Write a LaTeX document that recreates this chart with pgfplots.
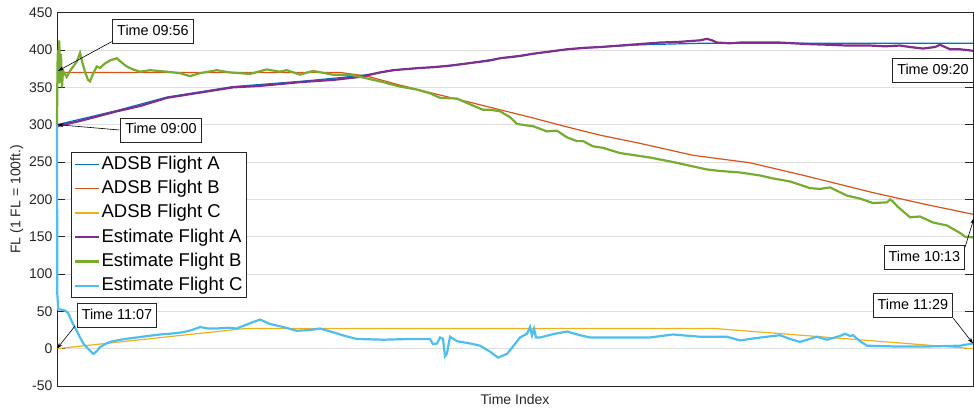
\documentclass[border=0pt]{standalone}
\usepackage{pgfplots}
\pgfplotsset{compat=1.18}
\usepackage{fontspec}
\setmainfont{Liberation Sans}
\usetikzlibrary{calc,arrows.meta}
\definecolor{mA}{HTML}{0072BD}
\definecolor{mB}{HTML}{D95319}
\definecolor{mC}{HTML}{EDB120}
\definecolor{mD}{HTML}{7E2F8E}
\definecolor{mE}{HTML}{77AC30}
\definecolor{mF}{HTML}{4DBEEE}
\definecolor{axgray}{HTML}{262626}
\definecolor{gridgray}{HTML}{DFDFDF}
\begin{document}
\begin{tikzpicture}[x=1pt,y=1pt]
\begin{axis}[
  scale only axis,
  width=916pt, height=373.3pt,
  xmin=0, xmax=916, ymin=-50, ymax=450,
  xtick=\empty,
  ytick={-50,0,...,450},
  ymajorgrids, grid style={gridgray, line width=0.8pt},
  axis line style={axgray, line width=0.8pt},
  tick style={axgray, line width=0.8pt},
  major tick length=8pt, tick align=inside,
  /pgf/number format/assume math mode=true,
  tick label style={font=\fontsize{14}{16}\selectfont, text=axgray},
  yticklabel style={xshift=-1pt},
  xlabel={Time Index}, ylabel={FL (1 FL = 100ft.)},
  label style={font=\fontsize{14}{16}\selectfont, text=axgray},
  xlabel style={yshift=-5pt},
  ylabel style={yshift=-1pt},
  clip=false,
  legend cell align=left,
  legend image code/.code={\draw[#1] (0pt,0pt) -- (24pt,0pt);},
  legend style={at={(0.0153,0.627)}, anchor=north west, draw=axgray, line width=0.8pt,
    font=\fontsize{18.5}{22}\selectfont, inner xsep=2pt, inner ysep=3pt, row sep=6.3pt,
    nodes={inner ysep=0pt, inner xsep=2pt, text height=14pt, text depth=4pt}},
]
% ADSB Flight A
\addplot[mA, line width=1.2pt] coordinates {
(0,300) (60,319) (110,337) (176,351) (243,358) (283,363) (310,367) (343,374) (376,377)
(410,382) (443,389) (476,395) (510,401) (543,404) (583,407) (643,409) (916,409)};
% ADSB Flight B
\addplot[mB, line width=1.2pt] coordinates {
(0,370) (283,370) (310,365) (343,353) (376,342) (410,331) (443,320) (476,309) (510,297)
(543,286) (583,275) (636,259) (653,256) (693,249) (750,231) (816,209) (866,194) (916,180)};
% ADSB Flight C
\addplot[mC, line width=1.2pt] coordinates {
(0,0) (188,27) (658,27) (916,0)};
% Estimate Flight A
\addplot[mD, line width=2.2pt] coordinates {
(0,298) (23,305) (43,312) (60,318) (83,325) (110,336) (143,343) (176,350) (203,352) (243,357)
(276,360) (303,364) (323,370) (336,373) (363,376) (376,377) (393,379) (410,382) (433,386)
(443,389) (463,392) (476,395) (493,398) (510,401) (528,403) (543,404) (563,406) (583,408)
(603,410) (623,411) (643,413) (650,415) (655,413) (660,410) (673,409) (683,410) (703,410)
(723,410) (750,408) (773,407) (790,406) (813,406) (828,405) (843,406) (853,404) (866,402)
(878,404) (883,407) (888,404) (893,401) (903,401) (916,399)};
% Estimate Flight B
\addplot[mE, line width=2.2pt] coordinates {
(0,300) (0.5,380) (1,400) (1.5,355) (2.3,413) (3,356) (4,395) (5,350) (6,372) (9.7,364)
(13,372) (16.3,378) (20,385) (23,396) (26,380) (28,371) (31,360) (33,358) (36,368) (39.7,378)
(43,376) (48,382) (53,386) (59.7,389) (64,384) (69.7,378) (76,374) (83,371) (93,373) (109.7,371)
(123,369) (133,365) (143,369) (159.7,373) (173,370) (193,368) (209.7,374) (223,371) (229.7,373)
(243,367) (256,372) (276,367) (293,367) (310,362) (326,357) (343,351) (360,347) (373,342)
(383,336) (400,335) (410,329) (426,320) (433,320) (443,318) (453,310) (460,301) (470,299)
(476,298) (490,291) (500,292) (510,283) (520,278) (526,278) (536,271) (546,269) (563,262)
(583,258) (593,256) (616,250) (623,248) (633,245) (650,240) (663,238) (683,236) (703,232)
(716,228) (733,224) (753,215) (763,214) (773,216) (790,205) (803,201) (816,195) (830,196)
(833,200) (836,197) (840,191) (853,176) (863,177) (876,169) (890,165) (903,155) (908,150) (916,149)};
% Estimate Flight C
\addplot[mF, line width=2.2pt] coordinates {
(0,300) (0.3,73) (1.3,53) (5,52) (8,51) (11,48) (13,42) (16,33) (19.7,24) (23,15) (26.3,7)
(31,0) (36.3,-7) (40,-3) (43,2) (48,6) (53,9) (59.7,11) (68,13) (79.7,15) (91,17) (103,19)
(113,20) (126.3,22) (135,25) (143,29) (151,27) (159.7,27) (171,28) (179.7,27) (191,33) (203,39)
(213,33) (226.3,29) (239.7,24) (253,25) (263,27) (276,22) (288,17) (300,13) (326,12) (353,13)
(373,13) (376,6) (380,7) (383,15) (386,13) (388,-10) (390,-6) (393,16) (400,10) (413,7) (423,4)
(433,-4) (441,-12) (450,-7) (456,3) (463,15) (470,20) (473,29) (475,18) (477,27) (479,15)
(483,15) (498,20) (510,23) (523,18) (533,15) (553,15) (576,15) (593,15) (616,19) (643,16)
(670,16) (683,11) (698,14) (710,16) (723,18) (733,13) (743,9) (760,16) (770,12) (783,17)
(788,20) (793,17) (796,18) (803,10) (810,4) (836,3) (873,3) (903,4) (916,7)};
\legend{ADSB Flight A, ADSB Flight B, ADSB Flight C, Estimate Flight A, Estimate Flight B, Estimate Flight C}
% annotations
\tikzset{anno/.style={draw=axgray, line width=0.8pt, fill=white, font=\fontsize{14.4}{16}\selectfont,
  inner xsep=4.5pt, text height=10.5pt, text depth=2.5pt, inner ysep=5.5pt},
  arr/.style={-{Stealth[length=6pt,width=4pt]}, black, line width=0.6pt}}
\draw[arr] (axis cs:54.7,411.2) -- (axis cs:1,372);
\node[anno] at (axis cs:96,424.8) {Time 09:56};
\draw[arr] (axis cs:62.3,292.9) -- (axis cs:0.5,300);
\node[anno] at (axis cs:104,292.9) {Time 09:00};
\draw[arr] (axis cs:18,30.4) -- (axis cs:0,0);
\node[anno] at (axis cs:60,45.1) {Time 11:07};
\node[anno] at (axis cs:876,372.9) {Time 09:20};
\draw[arr] (axis cs:908,135.8) -- (axis cs:917,175);
\node[anno] at (axis cs:867.3,121.8) {Time 10:13};
\draw[arr] (axis cs:896.3,40.7) -- (axis cs:916,7);
\node[anno] at (axis cs:855.8,57.9) {Time 11:29};
\coordinate (bl) at (rel axis cs:0,0);
\coordinate (tr) at (rel axis cs:1,1);
\end{axis}
\pgfresetboundingbox
\path ($(bl)+(-57pt,-24pt)$) rectangle ($(tr)+(1pt,12.7pt)$);
\end{tikzpicture}
\end{document}
